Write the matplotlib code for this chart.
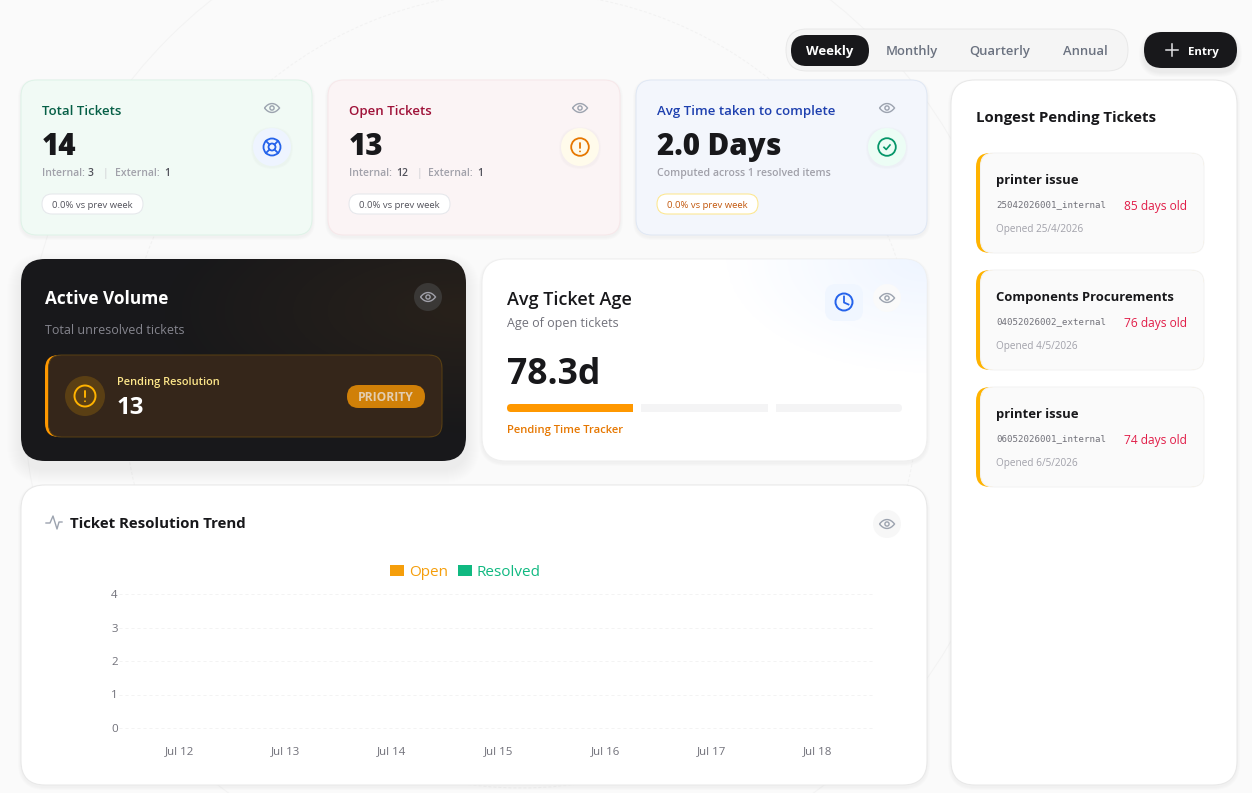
import numpy as np
import matplotlib
matplotlib.use('Agg')
import matplotlib.pyplot as plt
from matplotlib.patches import FancyBboxPatch, Circle, Rectangle, PathPatch, Patch
from matplotlib.path import Path

plt.rcParams['font.family'] = ['Open Sans', 'DejaVu Sans']

# data
periods = ['Weekly', 'Monthly', 'Quarterly', 'Annual']
kpi_titles = ['Total Tickets', 'Open Tickets', 'Avg Time taken to complete']
kpi_values = ['14', '13', '2.0 Days']
kpi_pills = ['0.0% vs prev week', '0.0% vs prev week', '0.0% vs prev week']
ticket_names = ['printer issue', 'Components Procurements', 'printer issue']
ticket_codes = ['25042026001_internal', '04052026002_external', '06052026001_internal']
ticket_ages = ['85 days old', '76 days old', '74 days old']
ticket_opened = ['Opened 25/4/2026', 'Opened 4/5/2026', 'Opened 6/5/2026']
trend_days = ['Jul 12', 'Jul 13', 'Jul 14', 'Jul 15', 'Jul 16', 'Jul 17', 'Jul 18']
trend_open = [0, 0, 0, 0, 0, 0, 0]
trend_resolved = [0, 0, 0, 0, 0, 0, 0]

W, H = 1252, 793
fig = plt.figure(figsize=(W / 100, H / 100), dpi=100, facecolor='#fafafa')
ui = fig.add_axes([0, 0, 1, 1])
ui.set_xlim(0, W)
ui.set_ylim(H, 0)
ui.axis('off')

THIN = 0.72


def px(size):
    return size * 0.72


def txt(x, y, s, size, color='#18181b', weight='normal', ha='left', family=None):
    kw = {'family': family} if family else {}
    return ui.text(x, y, s, fontsize=px(size), color=color, fontweight=weight,
                   ha=ha, va='baseline', zorder=7, **kw)


def box(x0, y0, x1, y1, r, fc, ec='none', lw=THIN, z=2, alpha=None):
    p = FancyBboxPatch((x0, y0), x1 - x0, y1 - y0,
                       boxstyle=f'round,pad=0,rounding_size={r}',
                       fc=fc, ec=ec, lw=lw, zorder=z, alpha=alpha)
    ui.add_patch(p)
    return p


def shadow(x0, y0, x1, y1, r, dy=2, spread=3, alpha=0.012, z=1.5):
    for i in range(spread, 0, -1):
        box(x0 - i, y0 - i + dy, x1 + i, y1 + i + dy, r + i, '#000000', z=z, alpha=alpha)


def eye(cx, cy, color='#9ca3af', w=7.5, h=4.4, lw=1.0):
    verts = [(cx - w, cy), (cx - w * .4, cy - h * 1.35), (cx + w * .4, cy - h * 1.35), (cx + w, cy),
             (cx + w * .4, cy + h * 1.35), (cx - w * .4, cy + h * 1.35), (cx - w, cy)]
    codes = [Path.MOVETO, Path.CURVE4, Path.CURVE4, Path.CURVE4, Path.CURVE4, Path.CURVE4, Path.CURVE4]
    ui.add_patch(PathPatch(Path(verts, codes), fc='none', ec=color, lw=lw, zorder=6))
    ui.add_patch(Circle((cx, cy), 2.1, fc='none', ec=color, lw=lw, zorder=6))


def alert(cx, cy, r, color, lw=1.3):
    ui.add_patch(Circle((cx, cy), r, fc='none', ec=color, lw=lw, zorder=6))
    ui.plot([cx, cx], [cy - r * .5, cy + r * .08], color=color, lw=lw, solid_capstyle='round', zorder=6)
    ui.add_patch(Circle((cx, cy + r * .5), .9, fc=color, ec='none', zorder=6))


def gradient(patch, extent, rgba):
    im = ui.imshow(rgba, extent=extent, aspect='auto', interpolation='bilinear', zorder=patch.get_zorder() + .1)
    im.set_clip_path(patch)
    ui.set_xlim(0, W)
    ui.set_ylim(H, 0)


# faint background rings
ui.add_patch(Circle((521, 390), 398, fc='none', ec='#f2f2f2', lw=THIN, ls=(0, (3, 2)), zorder=1))
ui.add_patch(Circle((521, 390), 498, fc='none', ec='#f3f3f3', lw=THIN, zorder=1))

# period switch and entry button
box(786, 29, 1128, 71, 21, '#f5f5f5', '#e9e9e9')
box(791, 35, 869, 66, 15.5, '#18181b', z=3)
for label, cx in zip(periods, [830, 912, 1000, 1085]):
    on = label == 'Weekly'
    txt(cx, 55, label, 13, '#ffffff' if on else '#6b7280', 'bold' if on else 'semibold', ha='center')
shadow(1144, 32, 1237, 68, 18, dy=4, spread=5, alpha=0.012)
box(1144, 32, 1237, 68, 18, '#18181b', z=3)
ui.plot([1166, 1178], [50, 50], color='#e4e4e7', lw=1.1, zorder=5)
ui.plot([1172, 1172], [44, 56], color='#e4e4e7', lw=1.1, zorder=5)
txt(1203, 55, 'Entry', 11.5, '#ffffff', 'bold', ha='center')

# KPI cards
kpi_x = [(21, 312), (328, 620), (636, 927)]
kpi_fc = ['#f1faf5', '#fbf4f5', '#f3f6fc']
kpi_ec = ['#dff3e8', '#f7e8ea', '#e0e8f4']
kpi_tc = ['#065f46', '#9f1239', '#1e40af']
icon_fc = ['#eef4ff', '#fffbeb', '#ecfdf5']
for i, (x0, x1) in enumerate(kpi_x):
    shadow(x0, 80, x1, 235, 16)
    box(x0, 80, x1, 235, 16, kpi_fc[i], kpi_ec[i], z=2)
    tx = x0 + 21
    txt(tx, 115, kpi_titles[i], 13.2, kpi_tc[i], 'semibold')
    txt(tx, 155, kpi_values[i], 29.5, '#18181b', 'heavy')
    eye(x1 - 40, 108)
    cx = x1 - 40
    shadow(cx - 19, 128, cx + 19, 166, 19, dy=1, spread=2, alpha=0.012, z=2.5)
    ui.add_patch(Circle((cx, 147), 19, fc=icon_fc[i], ec='none', zorder=3))
    pill_w = 101
    pill_ec = '#e5e7eb' if i < 2 else '#fde68a'
    box(tx, 194, tx + pill_w, 214, 10, '#ffffff', pill_ec, z=3)
    txt(tx + pill_w / 2, 207.5, kpi_pills[i], 9.5, '#52525b' if i < 2 else '#c2570c', ha='center')

# lifebuoy, alert and check icons
ui.add_patch(Circle((272, 147), 8.5, fc='none', ec='#2563eb', lw=1.3, zorder=6))
ui.add_patch(Circle((272, 147), 3.5, fc='none', ec='#2563eb', lw=1.3, zorder=6))
for a in np.deg2rad([45, 135, 225, 315]):
    ui.plot([272 + 3.5 * np.cos(a), 272 + 8.5 * np.cos(a)], [147 + 3.5 * np.sin(a), 147 + 8.5 * np.sin(a)],
            color='#2563eb', lw=1.3, zorder=6)
alert(580, 147, 8.8, '#e67700')
ui.add_patch(Circle((887, 147), 8.8, fc='none', ec='#059669', lw=1.3, zorder=6))
ui.plot([884, 886.2, 890], [147.3, 149.5, 145], color='#059669', lw=1.2, zorder=6)

# breakdown lines under the KPI values
grey = '#a1a1aa'
dark = '#52525b'
for x, s, c in [(42, 'Internal:', grey), (88, '3', dark), (103, '|', '#d4d4d8'), (115, 'External:', grey), (164, '1', dark),
                (349, 'Internal:', grey), (396, '12', dark), (417, '|', '#d4d4d8'), (428, 'External:', grey), (477, '1', dark)]:
    txt(x, 176, s, 10.4, c, 'semibold')
txt(657, 176, 'Computed across 1 resolved items', 10.5, grey, 'semibold')

# dark volume card
shadow(21, 259, 466, 461, 24, dy=8, spread=14, alpha=0.005)
dark_card = box(21, 259, 466, 461, 24, '#18181b', z=2)
gx, gy = np.meshgrid(np.linspace(0, 1, 60), np.linspace(0, 1, 40))
glow = np.clip(1 - np.hypot(gx - 1, (gy - .25) * 1.1) / .7, 0, 1)[..., None]
gradient(dark_card, (21, 466, 461, 259), np.dstack([np.full(gx.shape + (3,), (0.55, 0.35, 0.1)), glow * .14]))
box(45, 355, 442, 437, 14, '#ff9800', z=3)
box(48.5, 355, 442, 437, 13, '#35261a', '#573f14', z=3.2)
ui.add_patch(Circle((85, 396), 20, fc='#5a3f14', zorder=4))
alert(85, 396, 10.5, '#ffb300', lw=1.4)
txt(117, 385, 'Pending Resolution', 11, '#fde68a', 'semibold')
txt(117, 414, '13', 24, '#ffffff', 'bold')
box(347, 385, 425, 408, 11.5, '#d08008', z=4)
txt(386, 401, 'PRIORITY', 12, '#e3cdb0', 'bold', ha='center')
txt(45, 304, 'Active Volume', 17.2, '#ffffff', 'bold')
txt(45, 334, 'Total unresolved tickets', 12.5, '#85858e')
ui.add_patch(Circle((428, 297), 14, fc='#3a3836', zorder=4))
eye(428, 297, '#a1a1aa')

# average age card
shadow(482, 259, 927, 461, 24)
age_card = box(482, 259, 927, 461, 24, '#ffffff', '#efefef', z=2)
gx, gy = np.meshgrid(np.linspace(0, 1, 120), np.linspace(0, 1, 80))
tint = np.clip(1 - np.hypot(gx - 1, gy * .8) / .45, 0, 1)[..., None]
gradient(age_card, (482, 927, 461, 259), np.dstack([np.full(gx.shape + (3,), (0.93, 0.96, 1.0)), tint * .9]))
txt(507, 305, 'Avg Ticket Age', 18, '#18181b', 'semibold')
txt(507, 327, 'Age of open tickets', 12.5, '#71717a')
txt(507, 384, '78.3d', 35.5, '#18181b', 'bold')
box(825, 284, 863, 321, 11, '#f0f6ff', z=3)
ui.add_patch(Circle((844, 302), 8.5, fc='none', ec='#2563eb', lw=1.4, zorder=6))
ui.plot([844, 844, 848.5], [296.5, 302.5, 304.5], color='#2563eb', lw=1.3, zorder=6)
ui.add_patch(Circle((887, 298), 14, fc='#fafafa', zorder=3))
eye(887, 298)
box(507, 404, 520, 412, 4, '#ff9800', z=3)
ui.add_patch(Rectangle((511, 404), 122, 8, fc='#ff9800', zorder=3))
ui.add_patch(Rectangle((641, 404), 127, 8, fc='#f4f4f5', zorder=3))
box(890, 404, 902, 412, 4, '#f4f4f5', z=3)
ui.add_patch(Rectangle((776, 404), 120, 8, fc='#f4f4f5', zorder=3))
txt(507, 433, 'Pending Time Tracker', 11.3, '#e67700', 'semibold')

# trend card
shadow(21, 485, 927, 785, 24)
box(21, 485, 927, 785, 24, '#ffffff', '#e8e8e8', z=2)
ui.plot([46, 50, 53, 57, 59, 62], [523, 523, 516, 529, 522, 522], color='#9ca3af', lw=1.0, zorder=6)
txt(70, 528, 'Ticket Resolution Trend', 15, '#18181b', 'bold')
ui.add_patch(Circle((887, 524), 14, fc='#f7f7f7', zorder=3))
eye(887, 524)

# the chart itself, empty because every count is zero
left, right, top, bottom = 119, 872, 594, 728
ax = fig.add_axes([left / W, 1 - bottom / H, (right - left) / W, (bottom - top) / H], zorder=5)
ax.patch.set_alpha(0)
pos = np.arange(len(trend_days))
ax.bar(pos - .2, trend_open, width=.36, color='#f59e0b')
ax.bar(pos + .2, trend_resolved, width=.36, color='#10b981')
ax.set_xlim(-60 / 106.5, 6 + 54 / 106.5)
ax.set_ylim(0, 4)
ax.set_yticks(range(5))
ax.set_xticks(pos)
ax.set_xticklabels(trend_days)
for s in ax.spines.values():
    s.set_visible(False)
ax.tick_params(length=0, labelsize=px(11.5), labelcolor='#71717a')
ax.tick_params(axis='x', pad=12.7)
ax.tick_params(axis='y', pad=1)
ax.grid(axis='y', color='#f3f3f3', lw=THIN, linestyle=(0, (3, 3)), clip_on=False)
ax.set_axisbelow(True)
leg = ax.legend(handles=[Patch(fc='#f59e0b', label='Open'), Patch(fc='#10b981', label='Resolved')],
                ncol=2, frameon=False, loc='lower left', bbox_to_anchor=(271 / 753, 1.105),
                fontsize=px(15.2), handlelength=.95, handleheight=.72, handletextpad=.3,
                columnspacing=.65, borderpad=0, borderaxespad=0)
for t, c in zip(leg.get_texts(), ['#f59e0b', '#10b981']):
    t.set_color(c)

# pending tickets panel
shadow(951, 80, 1237, 785, 24)
box(951, 80, 1237, 785, 24, '#ffffff', '#e8e8e8', z=2)
txt(976, 122, 'Longest Pending Tickets', 15, '#18181b', 'bold')
for i in range(len(ticket_names)):
    y0 = 153 + 117 * i
    box(976, y0, 1204, y0 + 100, 14, '#ffb300', z=3)
    box(980.5, y0, 1204, y0 + 100, 13, '#fafafa', '#f3f3f3', z=3.2)
    txt(996, y0 + 31, ticket_names[i], 13, '#18181b', 'bold')
    txt(996, y0 + 54, ticket_codes[i], 9.2, '#71717a', family='DejaVu Sans Mono')
    txt(1187, y0 + 57, ticket_ages[i], 12, '#e11d48', ha='right')
    txt(996, y0 + 79, ticket_opened[i], 10, '#a1a1aa')

fig.savefig('out.png', dpi=100, facecolor=fig.get_facecolor())
